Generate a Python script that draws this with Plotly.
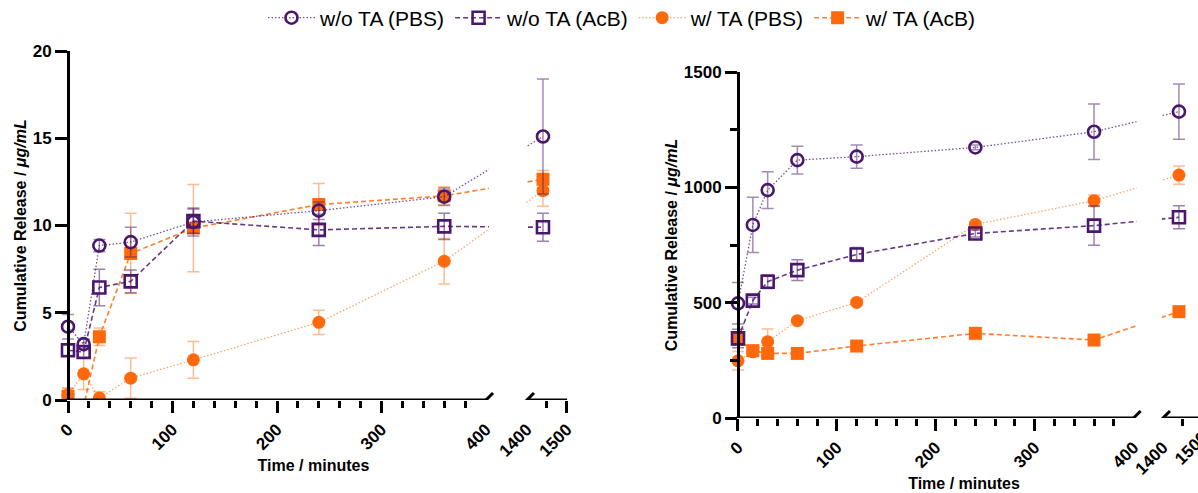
import plotly.graph_objects as go

W, H = 1198, 493

# ---------------- data ----------------
time_min = [0, 15, 30, 60, 120, 240, 360, 1440]

# left panel (µg/mL)
L_woTA_PBS = [4.2, 3.2, 8.85, 9.05, 10.2, 10.85, 11.65, 15.1]
L_woTA_PBS_err = [0.7, 0.3, 0.35, 0.85, 0.8, 0.5, 0.5, 3.3]
L_woTA_AcB = [2.85, 2.75, 6.45, 6.8, 10.25, 9.75, 9.95, 9.9]
L_woTA_AcB_err = [0.3, 0.3, 1.05, 0.65, 0.7, 0.9, 0.75, 0.8]
L_wTA_PBS = [0.3, 1.5, 0.12, 1.25, 2.3, 4.45, 7.95, 12.0]
L_wTA_PBS_err = [0.35, 0.9, 0.35, 1.15, 1.05, 0.7, 1.3, 0.9]
L_wTA_AcB = [0.2, -0.35, 3.63, 8.4, 9.85, 11.2, 11.7, 12.65]
L_wTA_AcB_err = [0.5, 0.3, 0.5, 2.3, 2.5, 1.2, 0.5, 0.5]

# right panel (µg/mL)
R_woTA_PBS = [497, 837, 988, 1118, 1133, 1173, 1241, 1328]
R_woTA_PBS_err = [90, 120, 80, 60, 50, 10, 120, 120]
R_woTA_AcB = [345, 509, 591, 641, 709, 800, 834, 870]
R_woTA_AcB_err = [40, 15, 30, 45, 30, 15, 85, 50]
R_wTA_PBS = [248, 287, 331, 422, 501, 839, 942, 1053]
R_wTA_PBS_err = [40, 15, 55, 10, 10, 10, 25, 40]
R_wTA_AcB = [341, 292, 280, 280, 312, 367, 338, 461]
R_wTA_AcB_err = [15, 15, 10, 10, 10, 15, 10, 15]

series_names = ["w/o TA (PBS)", "w/o TA (AcB)", "w/ TA (PBS)", "w/ TA (AcB)"]
x_major = [0, 100, 200, 300]
x_minor = [20, 40, 60, 80, 120, 140, 160, 180, 220, 240, 260, 280, 320, 340, 360, 380, 1450]
BRK_LO, BRK_HI, X_END = 400, 1400, 1500

# ---------------- style ----------------
PURPLE = "#4A176E"
ORANGE = "#FF690C"
FONT = "Arial, Liberation Sans, Helvetica, sans-serif"

styles = {
    "w/o TA (PBS)": dict(symbol="circle-open", color=PURPLE, mline=2.6,
                         line=dict(color="rgba(74,23,110,0.75)", width=1.3, dash="1.5px,2px"),
                         err="rgba(74,23,110,0.5)", rank=1),
    "w/o TA (AcB)": dict(symbol="square-open", color=PURPLE, mline=2.6,
                         line=dict(color="rgba(74,23,110,0.85)", width=1.6, dash="5px,3px"),
                         err="rgba(74,23,110,0.55)", rank=2),
    "w/ TA (PBS)": dict(symbol="circle", color=ORANGE, mline=0,
                        line=dict(color="rgba(255,105,12,0.6)", width=1.3, dash="1.5px,2px"),
                        err="rgba(255,105,12,0.45)", rank=3),
    "w/ TA (AcB)": dict(symbol="square", color=ORANGE, mline=0,
                        line=dict(color="rgba(255,105,12,0.85)", width=1.6, dash="5px,3px"),
                        err="rgba(255,105,12,0.45)", rank=4),
}

panels = [
    dict(xa="x", ya="y", px0=68, sx=1.045, gap=39.2, k=0.383, umin=-8, y0px=400, y1px=51,
         yrange=[0, 20], yticks=[0, 5, 10, 15, 20], yminor=[], umax=None, xstand=0,
         data={"w/o TA (PBS)": (L_woTA_PBS, L_woTA_PBS_err), "w/o TA (AcB)": (L_woTA_AcB, L_woTA_AcB_err),
               "w/ TA (PBS)": (L_wTA_PBS, L_wTA_PBS_err), "w/ TA (AcB)": (L_wTA_AcB, L_wTA_AcB_err)}),
    dict(xa="x2", ya="y2", px0=738, sx=0.989, gap=29.7, k=0.404, umin=-8, y0px=418, y1px=72,
         yrange=[0, 1500], yticks=[0, 500, 1000, 1500], yminor=[250, 750, 1250], umax="edge", xstand=6,
         data={"w/o TA (PBS)": (R_woTA_PBS, R_woTA_PBS_err), "w/o TA (AcB)": (R_woTA_AcB, R_woTA_AcB_err),
               "w/ TA (PBS)": (R_wTA_PBS, R_wTA_PBS_err), "w/ TA (AcB)": (R_wTA_AcB, R_wTA_AcB_err)}),
]


def brk(t, p):
    """map time to broken-axis coordinate"""
    return t if t <= BRK_LO else BRK_LO + p["gap"] + (t - BRK_HI) * p["k"]


fig = go.Figure()
draw_order = ["w/ TA (AcB)", "w/ TA (PBS)", "w/o TA (AcB)", "w/o TA (PBS)"]

for i, p in enumerate(panels):
    for name in draw_order:
        st = styles[name]
        vals, errs = p["data"][name]
        fig.add_trace(go.Scatter(
            x=[brk(t, p) for t in time_min], y=vals,
            xaxis=p["xa"], yaxis=p["ya"], name=name, legendgroup=name,
            showlegend=(i == 0), legendrank=st["rank"], mode="lines+markers",
            line=st["line"],
            marker=dict(symbol=st["symbol"], size=13 if st["mline"] == 0 else 12, color=st["color"],
                        line=dict(width=st["mline"], color=st["color"])),
            error_y=dict(type="data", array=errs, visible=True, color=st["err"],
                         thickness=1.5, width=6),
            hoverinfo="skip",
        ))

shapes, annotations = [], []
axis_font = dict(family=FONT, size=17, color="black", weight="bold")
title_font = dict(family=FONT, size=16, color="black", weight="bold")
layout = {}

for i, p in enumerate(panels):
    sfx = "" if i == 0 else "2"
    ovl = "3" if i == 0 else "4"
    umax = brk(X_END, p) + 0.3 if p["umax"] is None else (W - p["px0"]) / p["sx"]
    d0 = (p["px0"] + p["umin"] * p["sx"]) / W
    d1 = min(1.0, (p["px0"] + umax * p["sx"]) / W)
    major_vals = [brk(v, p) for v in x_major] + [brk(X_END, p)]
    major_text = [str(v) for v in x_major] + [str(X_END)]
    layout["xaxis" + sfx] = dict(
        domain=[d0, d1], range=[p["umin"], umax], anchor=p["ya"], showline=False,
        showgrid=False, zeroline=False, tickmode="array", tickvals=major_vals, ticktext=major_text,
        ticks="outside", ticklen=12, tickwidth=2.5, tickcolor="black", tickangle=-45,
        tickfont=axis_font, automargin=False,
        minor=dict(tickmode="array", tickvals=[brk(v, p) for v in x_minor], ticks="outside",
                   ticklen=7, tickwidth=2.5, tickcolor="black", showgrid=False),
        title=dict(text="Time / minutes", font=title_font, standoff=p["xstand"]),
    )
    layout["xaxis" + ovl] = dict(
        overlaying=p["xa"], anchor=p["ya"], range=[p["umin"], umax], showline=False,
        showgrid=False, zeroline=False, tickmode="array", automargin=False,
        tickvals=[brk(BRK_LO, p), brk(BRK_HI, p)], ticktext=[str(BRK_LO), str(BRK_HI)],
        ticks="outside", ticklen=12, tickcolor="rgba(0,0,0,0)", tickangle=-45, tickfont=axis_font,
    )
    fig.add_trace(go.Scatter(x=[], y=[], xaxis="x" + ovl, yaxis=p["ya"], showlegend=False,
                             hoverinfo="skip"))
    layout["yaxis" + sfx] = dict(
        domain=[1 - p["y0px"] / H, 1 - p["y1px"] / H], range=p["yrange"], anchor="free",
        position=p["px0"] / W, showline=True, linewidth=3, linecolor="black",
        showgrid=False, zeroline=False, tickmode="array", tickvals=p["yticks"],
        ticks="outside", ticklen=12, tickwidth=2.5, tickcolor="black", tickfont=axis_font,
        automargin=False,
        minor=dict(tickmode="array", tickvals=p["yminor"], ticks="outside", ticklen=7,
                   tickwidth=2.5, tickcolor="black", showgrid=False),
        title=dict(text="Cumulative Release / <i>μg/mL</i>", font=title_font, standoff=1),
    )
    xa, ya = p["xa"], p["ya"]
    lo, hi = brk(BRK_LO, p), brk(BRK_HI, p)
    # mask the data lines inside the axis break
    shapes.append(dict(type="rect", xref=xa, yref=ya, x0=lo + 3 / p["sx"], x1=hi - 1 / p["sx"],
                       y0=p["yrange"][0], y1=p["yrange"][1], fillcolor="white",
                       line=dict(width=0), layer="above"))
    # x axis baseline, two segments
    shapes.append(dict(type="line", xref=xa, yref=ya, x0=-1.5 / p["sx"], x1=lo, y0=0, y1=0,
                       line=dict(color="black", width=3), layer="above"))
    shapes.append(dict(type="line", xref=xa, yref=ya, x0=hi, x1=umax, y0=0, y1=0,
                       line=dict(color="black", width=3), layer="above"))
    # break slashes
    for anc in (lo, hi):
        shapes.append(dict(type="line", xref=xa, yref=ya, xsizemode="pixel", xanchor=anc,
                           x0=-7, x1=7, ysizemode="pixel", yanchor=0, y0=-7, y1=7,
                           line=dict(color="black", width=3), layer="above"))
    if p["umax"] == "edge":
        # tick label for the axis end, which lies just past the cropped figure edge
        px_end = p["px0"] + brk(X_END, p) * p["sx"]
        annotations.append(dict(x=px_end / W, y=1 - p["y0px"] / H, xref="paper", yref="paper",
                                text=str(X_END), showarrow=False, textangle=-45, font=axis_font,
                                xanchor="center", yanchor="middle", xshift=-12, yshift=-30))

fig.update_layout(
    width=W, height=H, margin=dict(l=0, r=0, t=0, b=0, autoexpand=False),
    paper_bgcolor="white", plot_bgcolor="white",
    shapes=shapes, annotations=annotations,
    legend=dict(orientation="h", x=0.5196, xanchor="center", y=1.005, yanchor="top",
                font=dict(family=FONT, size=21, color="black"), traceorder="normal",
                itemwidth=47, bgcolor="rgba(0,0,0,0)"),
    **layout,
)

fig.write_html("out.html")
